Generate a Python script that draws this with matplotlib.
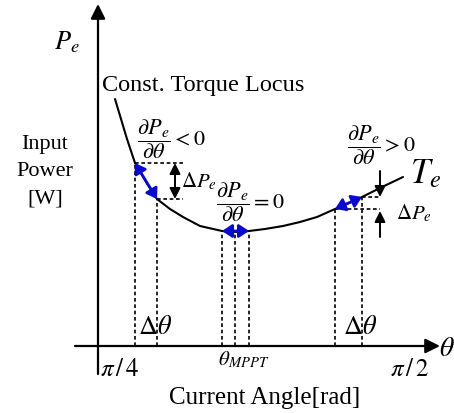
import numpy as np
import matplotlib
matplotlib.use("Agg")
import matplotlib.pyplot as plt

plt.rcParams['font.family'] = ['Liberation Serif', 'DejaVu Serif']
plt.rcParams['mathtext.fontset'] = 'stix'

# schematic units: origin where the two axes cross
# constant torque locus (input power vs current angle)
curve_x = [17, 23, 29, 37, 48, 59, 72, 85, 102, 124, 139, 151, 167, 185, 202, 219, 237, 251, 264, 282, 305]
curve_y = [247, 227, 207, 183, 164, 147, 137, 129, 120, 115, 114, 115, 117, 120, 124, 129, 137, 143, 149, 158, 169]

# operating points used for the perturb & observe steps
left_x, left_y = [37, 59], [183, 147]
mid_x, mid_y = [124, 137, 151], [115, 114, 115]
right_x, right_y = [237, 264], [137, 149]

blue = '#0a0acc'
dot = (0, (2.2, 1.6))

fig = plt.figure(figsize=(4.54, 4.14), dpi=100)
ax = fig.add_axes([0, 0, 1, 1])
ax.set_xlim(-98, 356)
ax.set_ylim(-67, 347)
ax.axis('off')

# axes with arrow heads
ax.annotate('', xy=(0, 342), xytext=(0, -28),
            arrowprops=dict(arrowstyle='-|>', color='black', lw=1.6, mutation_scale=22,
                            shrinkA=0, shrinkB=0))
ax.annotate('', xy=(342, 0), xytext=(-23, 0),
            arrowprops=dict(arrowstyle='-|>', color='black', lw=1.6, mutation_scale=22,
                            shrinkA=0, shrinkB=0))

# the locus
ax.plot(curve_x, curve_y, color='black', lw=1.5, solid_capstyle='round')

# dotted drop lines to the angle axis
for xs, ys in [(left_x, left_y), (mid_x, mid_y), (right_x, right_y)]:
    for x, y in zip(xs, ys):
        ax.plot([x, x], [0, y], color='black', lw=1.2, linestyle=dot)

# dotted power levels
ax.plot([left_x[0], 85], [left_y[0]] * 2, color='black', lw=1.2, linestyle=dot)
ax.plot([left_x[1], 85], [left_y[1]] * 2, color='black', lw=1.2, linestyle=dot)
ax.plot([right_x[0], 282], [right_y[0]] * 2, color='black', lw=1.2, linestyle=dot)
ax.plot([right_x[1], 282], [right_y[1]] * 2, color='black', lw=1.2, linestyle=dot)

# blue perturbation arrows
blue_arrow = dict(arrowstyle='<|-|>,head_length=0.42,head_width=0.28', color=blue, lw=2.0,
                  mutation_scale=14, shrinkA=0, shrinkB=0)
ax.annotate('', xy=(left_x[1], left_y[1]), xytext=(left_x[0], left_y[0]), arrowprops=blue_arrow)
ax.annotate('', xy=(mid_x[2], mid_y[0]), xytext=(mid_x[0], mid_y[0]), arrowprops=blue_arrow)
ax.annotate('', xy=(right_x[1], right_y[1]), xytext=(right_x[0], right_y[0]), arrowprops=blue_arrow)

# delta P markers
black_arrow = dict(arrowstyle='<|-|>', color='black', lw=1.4, mutation_scale=16, shrinkA=0, shrinkB=0)
ax.annotate('', xy=(77, left_y[1]), xytext=(77, left_y[0]), arrowprops=black_arrow)
one_way = dict(arrowstyle='-|>', color='black', lw=1.4, mutation_scale=16, shrinkA=0, shrinkB=0)
ax.annotate('', xy=(282, right_y[1]), xytext=(282, 175), arrowprops=one_way)
ax.annotate('', xy=(282, right_y[0] - 2), xytext=(282, 109), arrowprops=one_way)

# labels
ax.text(-31, 305, r'$P_e$', fontsize=19, ha='center', va='center')
ax.text(4, 262, 'Const. Torque Locus', fontsize=17.5, ha='left', va='center')
ax.text(-53, 202, 'Input', fontsize=16, ha='center', va='center')
ax.text(-53, 175, 'Power', fontsize=16, ha='center', va='center')
ax.text(-53, 148, '[W]', fontsize=16, ha='center', va='center')

ax.text(39, 208, r'$\dfrac{\partial P_e}{\partial \theta} < 0$', fontsize=16, ha='left', va='center')
ax.text(83, 166, r'$\Delta P_e$', fontsize=15, ha='left', va='center')
ax.text(118, 145, r'$\dfrac{\partial P_e}{\partial \theta} = 0$', fontsize=16, ha='left', va='center')
ax.text(249, 202, r'$\dfrac{\partial P_e}{\partial \theta} > 0$', fontsize=16, ha='left', va='center')
ax.text(312, 172, r'$T_e$', fontsize=25, ha='left', va='center')
ax.text(298, 134, r'$\Delta P_e$', fontsize=15, ha='left', va='center')

ax.text(40, 19, r'$\Delta\theta$', fontsize=19, ha='left', va='center')
ax.text(245, 19, r'$\Delta\theta$', fontsize=19, ha='left', va='center')
ax.text(2, -23, r'$\pi\,/\,4$', fontsize=18, ha='left', va='center')
ax.text(120, -13, r'$\theta_{MPPT}$', fontsize=15, ha='left', va='center')
ax.text(292, -23, r'$\pi\,/\,2$', fontsize=18, ha='left', va='center')
ax.text(349, -3, r'$\theta$', fontsize=20, ha='center', va='center')
ax.text(167, -51, 'Current Angle[rad]', fontsize=18, ha='center', va='center')

fig.savefig('out.png', dpi=100)
